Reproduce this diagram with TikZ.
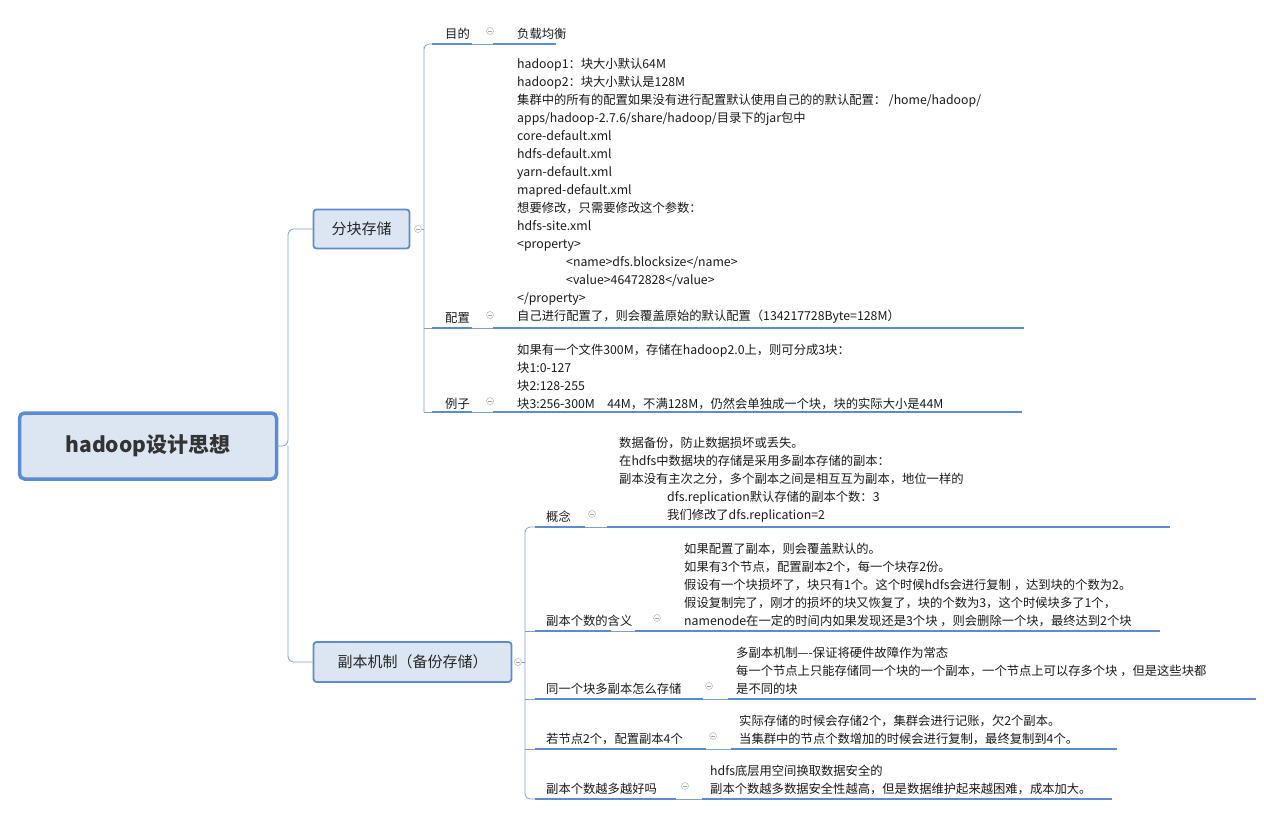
\documentclass[tikz,border=0pt]{standalone}
\usepackage{fontspec}
\setmainfont{Noto Sans CJK SC}
\definecolor{lineblue}{HTML}{5B8BD0}
\definecolor{boxfill}{HTML}{DCE6F2}
\definecolor{thin}{HTML}{7FA0CC}
\definecolor{txt}{HTML}{1A1A1A}
\tikzset{
  every node/.style={inner sep=0pt,text=txt,font=\fontsize{12.3}{18}\selectfont},
  lab/.style={anchor=south west},
  cont/.style={anchor=south west,align=left},
  uline/.style={draw=lineblue,line width=2.6pt},
  tline/.style={draw=thin,line width=0.8pt},
  fold/.style={circle,draw=gray!60,minimum size=7pt,inner sep=0pt,line width=0.5pt,
     path picture={\draw[gray!70,line width=0.5pt] ([xshift=-2pt]path picture bounding box.center)--([xshift=2pt]path picture bounding box.center);}},
  mainbox/.style={draw=lineblue,fill=boxfill,rounded corners=3pt,line width=1.8pt,
     font=\fontsize{15}{18}\selectfont,text=black!85}
}
\begin{document}
\begin{tikzpicture}[x=1pt,y=-1pt]
\useasboundingbox (0,0) rectangle (1264,816);
% root
\node[draw=lineblue,fill=boxfill,rounded corners=5pt,line width=3.5pt,minimum width=257pt,minimum height=66pt,
  font=\fontsize{21}{24}\selectfont\bfseries,text=black!80] (root) at (148,446) {hadoop设计思想};
\node[mainbox,minimum width=96pt,minimum height=39pt] (n1) at (361.5,229) {分块存储};
\node[mainbox,minimum width=198pt,minimum height=40pt] (n2) at (412.5,662) {副本机制（备份存储）};
\node[fold] (f1) at (418,229) {};
\node[fold] (f2) at (518,662) {};
\coordinate (j) at (288,446);
\draw[tline,rounded corners=6pt] (root.east) -- (j) |- (n1.west);
\draw[tline,rounded corners=6pt] (j) |- (n2.west);
% branch 1
\draw[tline,rounded corners=5pt] (f1.east) -- (424,229);
\draw[tline,rounded corners=5pt] (424,412) -- (424,52) |- (432,44);
\draw[tline] (f2.east) -- (525,662);
\draw[tline,rounded corners=5pt] (525,790) -- (525,535) |- (535,527);
\draw[tline,rounded corners=5pt] (525,790) |- (535,799);
\foreach \y in {328,412}{\draw[tline] (424,\y) -- (432,\y);}
\foreach \y in {631,699,749}{\draw[tline] (525,\y) -- (535,\y);}

% 目的
\node[lab] (l1) at (445,40) {目的};
\node[fold] (c1) at (490,31) {};
\node[cont] (t1) at (517,40) {负载均衡};
\draw[uline] (432,44) -- (472,44); \draw[tline] (472,44)--(493,44); \draw[uline] (493,44) -- (556,44);
% 配置
\node[lab] (l2) at (445,324) {配置};
\node[fold] (c2) at (490,315) {};
\node[cont] (t2) at (517,324) {hadoop1：块大小默认64M\\
hadoop2：块大小默认是128M\\
集群中的所有的配置如果没有进行配置默认使用自己的的默认配置：  /home/hadoop/\\
apps/hadoop-2.7.6/share/hadoop/目录下的jar包中\\
core-default.xml\\
hdfs-default.xml\\
yarn-default.xml\\
mapred-default.xml\\
想要修改，只需要修改这个参数：\\
hdfs-site.xml\\
<property>\\
\hspace*{49pt}<name>dfs.blocksize</name>\\
\hspace*{49pt}<value>46472828</value>\\
</property>\\
自己进行配置了，则会覆盖原始的默认配置（134217728Byte=128M）};
\draw[uline] (432,328) -- (472,328); \draw[tline] (472,328)--(493,328); \draw[uline] (493,328) -- (1024,328);
% 例子
\node[lab] (l3) at (445,410) {例子};
\node[fold] (c3) at (490,401) {};
\node[cont] (t3) at (517,410) {如果有一个文件300M，存储在hadoop2.0上，则可分成3块：\\
块1:0-127\\
块2:128-255\\
块3:256-300M\quad 44M，不满128M，仍然会单独成一个块，块的实际大小是44M};
\draw[uline] (432,412) -- (472,412); \draw[tline] (472,412)--(493,412); \draw[uline] (493,412) -- (1022,412);

% 概念
\node[lab] (m1) at (546,523) {概念};
\node[fold] (d1) at (592,514) {};
\node[cont] (u1) at (619,523) {数据备份，防止数据损坏或丢失。\\
在hdfs中数据块的存储是采用多副本存储的副本：\\
副本没有主次之分，多个副本之间是相互互为副本，地位一样的\\
\hspace*{48pt}dfs.replication默认存储的副本个数：3\\
\hspace*{48pt}我们修改了dfs.replication=2};
\draw[uline] (535,527) -- (585,527); \draw[tline] (585,527)--(607,527); \draw[uline] (607,527) -- (1170,527);
% 含义
\node[lab] (m2) at (546,627) {副本个数的含义};
\node[fold] (d2) at (657,618) {};
\node[cont] (u2) at (684,627) {如果配置了副本，则会覆盖默认的。\\
如果有3个节点，配置副本2个，每一个块存2份。\\
假设有一个块损坏了，块只有1个。这个时候hdfs会进行复制 ，达到块的个数为2。\\
假设复制完了，刚才的损坏的块又恢复了，块的个数为3，这个时候块多了1个，\\
namenode在一定的时间内如果发现还是3个块 ，则会删除一个块，最终达到2个块};
\draw[uline] (535,631) -- (611,631); \draw[tline] (611,631)--(635,631); \draw[uline] (635,631) -- (1160,631);
% 同一个块
\node[lab] (m3) at (546,695) {同一个块多副本怎么存储};
\node[fold] (d3) at (709,686) {};
\node[cont] (u3) at (736,695) {多副本机制----保证将硬件故障作为常态\\
每一个节点上只能存储同一个块的一个副本，一个节点上可以存多个块 ，但是这些块都\\
是不同的块};
\draw[uline] (535,699) -- (703,699); \draw[tline] (703,699)--(728,699); \draw[uline] (728,699) -- (1256,699);
% 若节点
\node[lab] (m4) at (546,745) {若节点2个，配置副本4个};
\node[fold] (d4) at (713,736) {};
\node[cont] (u4) at (739,745) {实际存储的时候会存储2个，集群会进行记账，欠2个副本。\\
当集群中的节点个数增加的时候会进行复制，最终复制到4个。};
\draw[uline] (535,749) -- (706,749); \draw[tline] (706,749)--(731,749); \draw[uline] (731,749) -- (1117,749);
% 越多越好
\node[lab] (m5) at (546,795) {副本个数越多越好吗};
\node[fold] (d5) at (685,786) {};
\node[cont] (u5) at (710,795) {hdfs底层用空间换取数据安全的\\
副本个数越多数据安全性越高，但是数据维护起来越困难，成本加大。};
\draw[uline] (535,799) -- (676,799); \draw[tline] (676,799)--(702,799); \draw[uline] (702,799) -- (1112,799);
\end{tikzpicture}
\end{document}
